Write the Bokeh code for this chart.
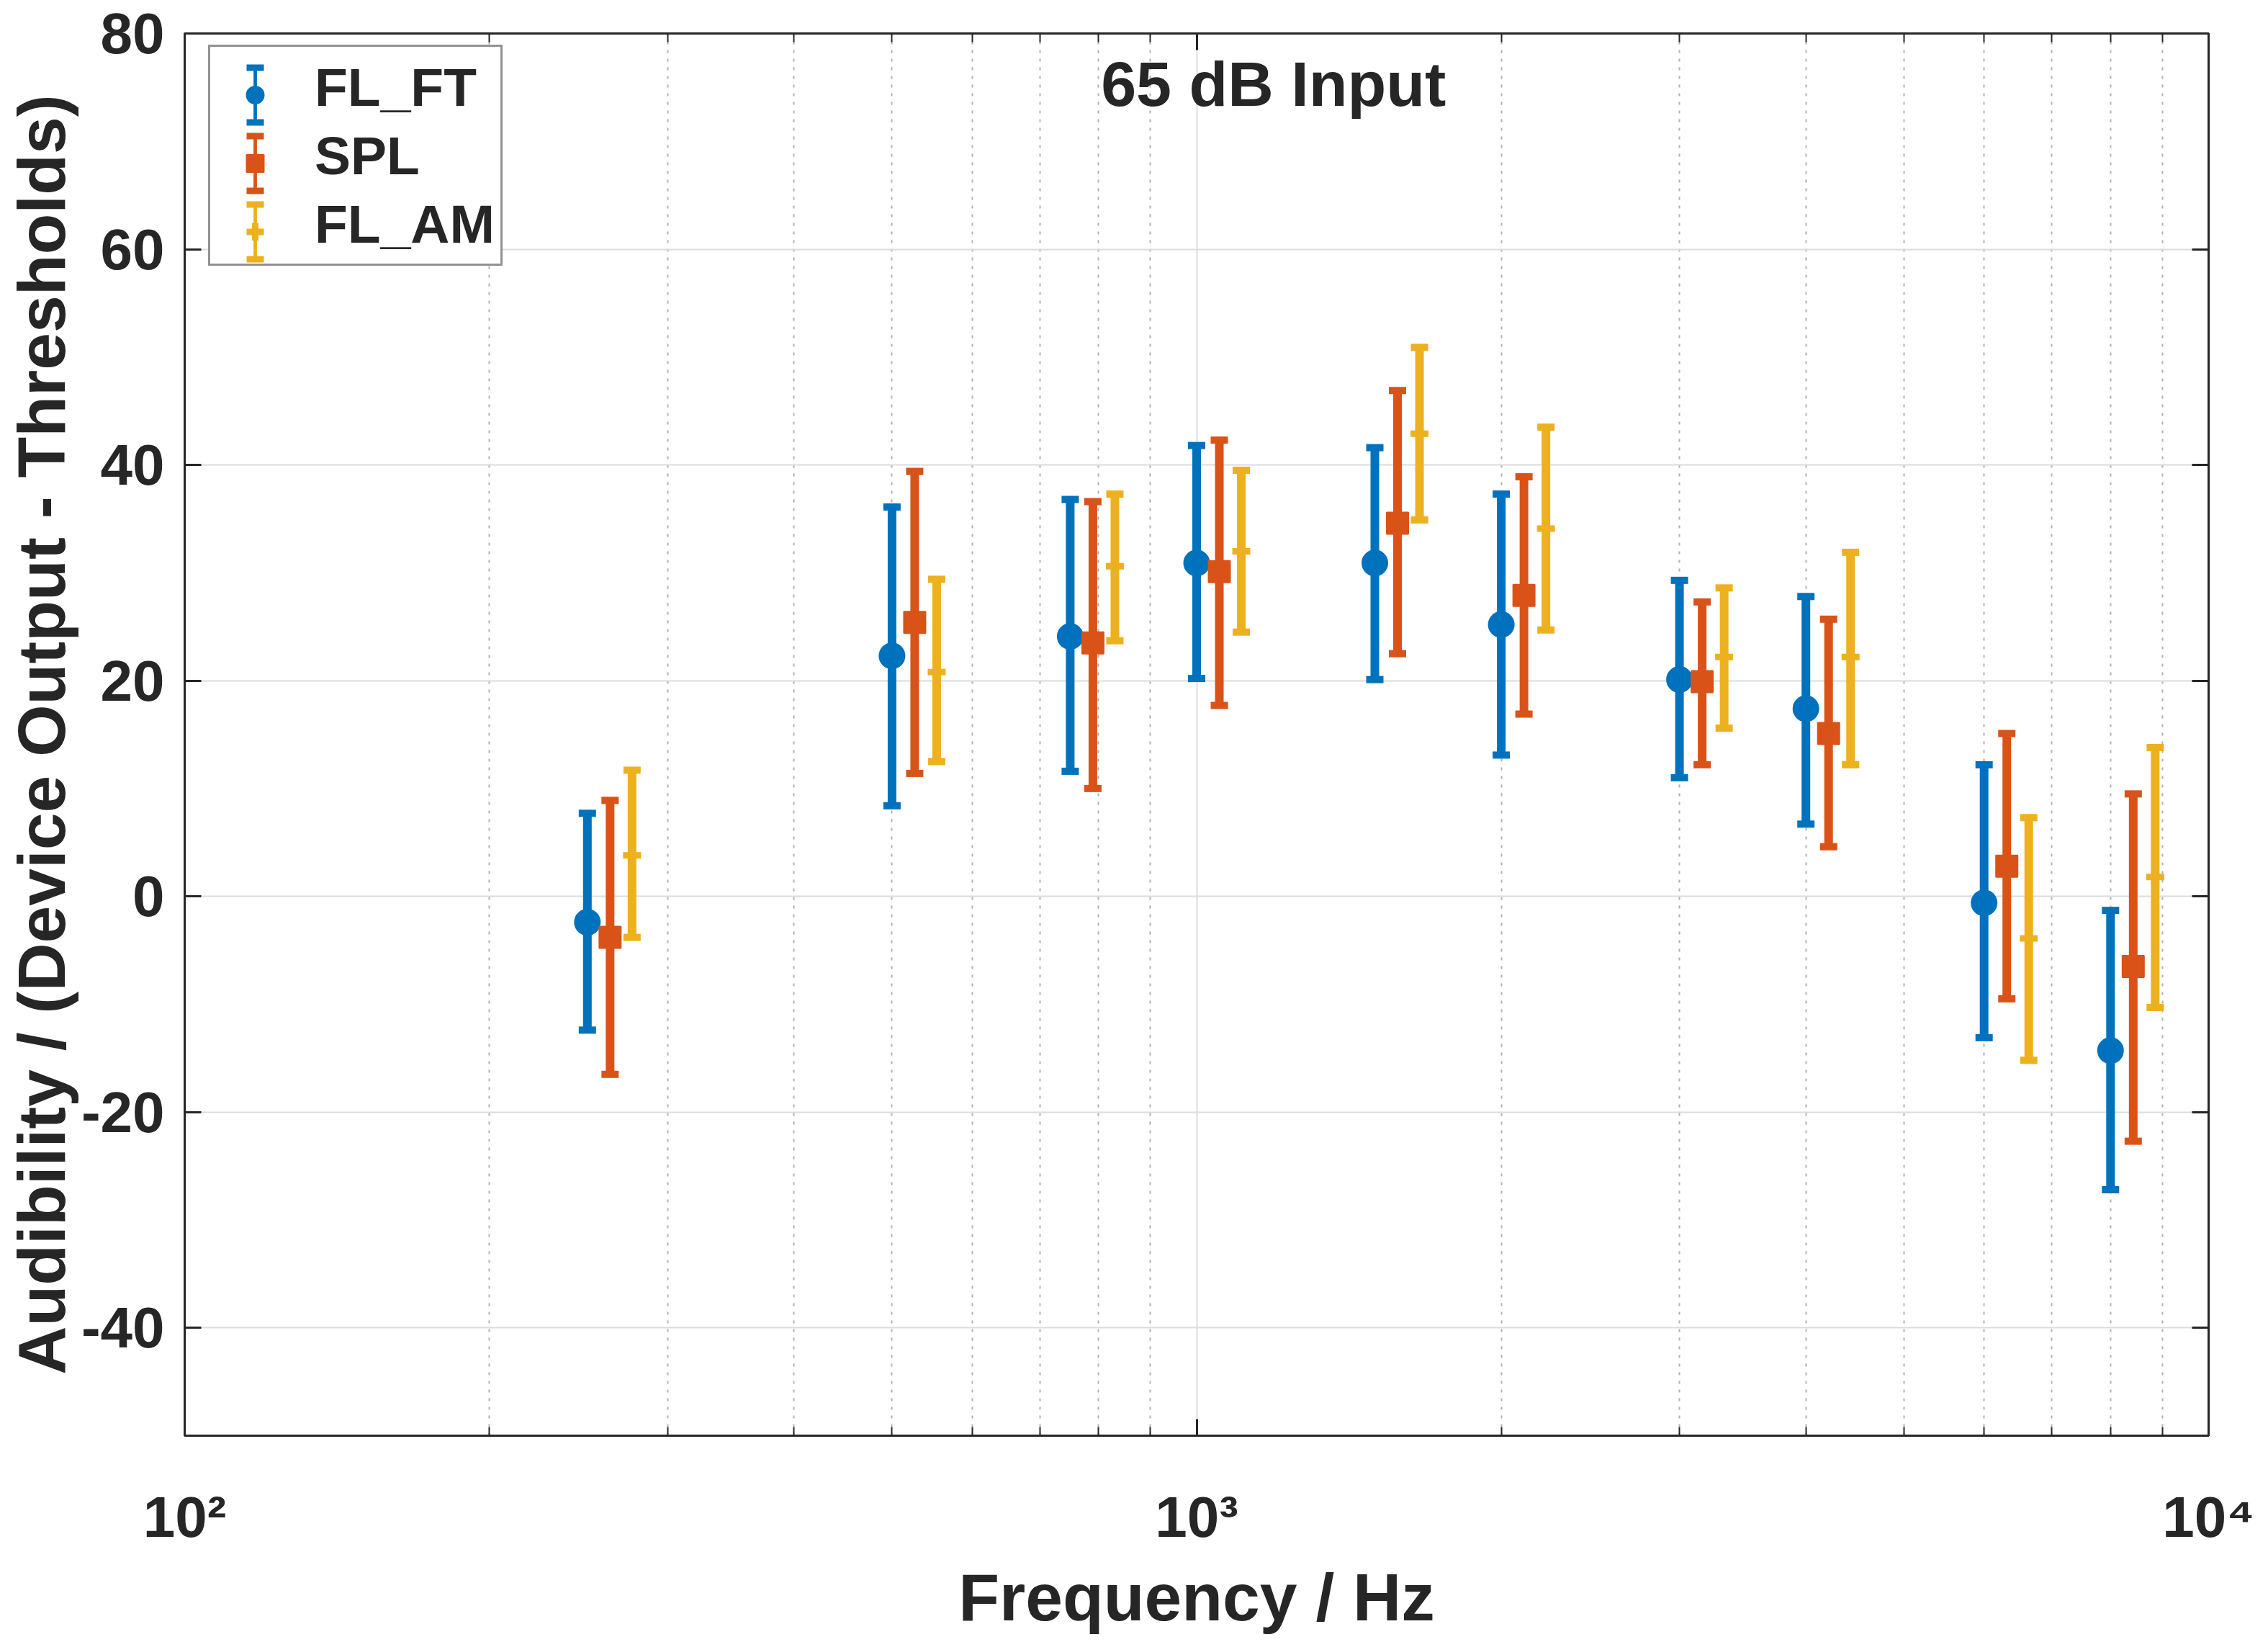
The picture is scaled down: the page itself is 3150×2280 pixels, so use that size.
from bokeh.plotting import figure
from bokeh.models import (Range1d, FixedTicker, LogAxis, LinearAxis, Legend,
                          LegendItem, ColumnDataSource, Label)
from bokeh.embed import file_html
from bokeh.resources import INLINE

# ---------------- data ----------------
FREQ = [250, 500, 750, 1000, 1500, 2000, 3000, 4000, 6000, 8000]
SERIES = ["FL_FT", "SPL", "FL_AM"]

FL_FT_MEAN = [-2.4, 22.3, 24.1, 30.9, 30.9, 25.2, 20.1, 17.4, -0.6, -14.3]
FL_FT_LO = [-12.4, 8.4, 11.6, 20.2, 20.1, 13.1, 11.0, 6.7, -13.1, -27.2]
FL_FT_HI = [7.7, 36.1, 36.8, 41.8, 41.6, 37.3, 29.3, 27.8, 12.2, -1.3]

SPL_MEAN = [-3.8, 25.4, 23.5, 30.1, 34.6, 27.9, 19.9, 15.1, 2.8, -6.5]
SPL_LO = [-16.5, 11.4, 10.0, 17.7, 22.5, 16.9, 12.2, 4.6, -9.5, -22.7]
SPL_HI = [8.9, 39.4, 36.6, 42.3, 46.9, 38.9, 27.3, 25.7, 15.1, 9.5]

FL_AM_MEAN = [3.8, 20.8, 30.6, 32.0, 42.9, 34.1, 22.2, 22.2, -3.9, 1.8]
FL_AM_LO = [-3.8, 12.5, 23.7, 24.5, 34.9, 24.7, 15.6, 12.2, -15.2, -10.3]
FL_AM_HI = [11.7, 29.4, 37.3, 39.5, 50.9, 43.5, 28.6, 31.9, 7.3, 13.8]

# horizontal dodge factors (multiplicative, log axis)
DODGE = [1.0, 1.053, 1.107]

X_TICKS = [100, 1000, 10000]
X_TICK_LABELS = ["10\u00b2", "10\u00b3", "10\u2074"]
X_MINOR = [200, 300, 400, 500, 600, 700, 800, 900,
           2000, 3000, 4000, 5000, 6000, 7000, 8000, 9000]
Y_TICKS = [-40, -20, 0, 20, 40, 60, 80]
Y_TICK_LABELS = ["-40", "-20", "0", "20", "40", "60", "80"]

TITLE = "65 dB Input"
X_LABEL = "Frequency / Hz"
Y_LABEL = "Audibility / (Device Output - Thresholds)"

COLORS = ["#0072BD", "#D95319", "#EDB120"]
FONT = "Liberation Sans"
TXT = "#262626"

# ---------------- figure ----------------
W, H = 3134, 2272
B_LEFT, B_RIGHT, B_TOP, B_BOTTOM = 256, 67, 46, 276
p = figure(width=W, height=H, x_axis_type="log",
           x_range=Range1d(100, 10000), y_range=Range1d(-50, 80),
           output_backend="svg", toolbar_location=None,
           min_border_left=B_LEFT, min_border_right=B_RIGHT,
           min_border_top=B_TOP, min_border_bottom=B_BOTTOM,
           background_fill_color="white", border_fill_color="white")
p.outline_line_color = TXT
p.outline_line_width = 3

xt = FixedTicker(ticks=X_TICKS, minor_ticks=X_MINOR)
yt = FixedTicker(ticks=Y_TICKS, minor_ticks=[])

xa = p.xaxis[0]
xa.ticker = xt
xa.major_label_overrides = dict(zip(X_TICKS, X_TICK_LABELS))
ya = p.yaxis[0]
ya.ticker = yt
ya.major_label_overrides = dict(zip(Y_TICKS, Y_TICK_LABELS))

for ax in (xa, ya):
    ax.axis_line_color = TXT
    ax.axis_line_width = 3
    ax.major_tick_line_color = TXT
    ax.major_tick_line_width = 3
    ax.minor_tick_line_color = TXT
    ax.minor_tick_line_width = 2
    ax.major_tick_in = 23
    ax.major_tick_out = 0
    ax.minor_tick_out = 0
    ax.major_label_text_font = FONT
    ax.major_label_text_font_style = "bold"
    ax.major_label_text_font_size = "80px"
    ax.major_label_text_color = TXT
    ax.axis_label_text_font = FONT
    ax.axis_label_text_font_style = "bold"
    ax.axis_label_text_font_size = "93px"
    ax.axis_label_text_color = TXT

xa.minor_tick_in = 12
ya.minor_tick_in = 0
xa.axis_label = X_LABEL
ya.axis_label = Y_LABEL
xa.major_label_standoff = 68
xa.axis_label_standoff = 12
ya.major_label_standoff = 28
ya.axis_label_standoff = 0

# mirrored box axes (top, right) with inward ticks, labels not drawn
top = LogAxis(ticker=xt, major_label_text_font_size="1px",
              major_label_text_color=None, major_label_standoff=0,
              axis_line_color=TXT, axis_line_width=3,
              major_tick_in=23, major_tick_out=0, major_tick_line_width=3,
              major_tick_line_color=TXT,
              minor_tick_in=12, minor_tick_out=0, minor_tick_line_width=2,
              minor_tick_line_color=TXT)
right = LinearAxis(ticker=yt, major_label_text_font_size="1px",
                   major_label_text_color=None, major_label_standoff=0,
                   axis_line_color=TXT, axis_line_width=3,
                   major_tick_in=23, major_tick_out=0, major_tick_line_width=3,
                   major_tick_line_color=TXT,
                   minor_tick_in=0, minor_tick_out=0)
p.add_layout(top, "above")
p.add_layout(right, "right")

# grids
p.xgrid.ticker = xt
p.ygrid.ticker = yt
p.xgrid.grid_line_color = "#dcdcdc"
p.xgrid.grid_line_width = 2
p.xgrid.minor_grid_line_color = "#b0b0b0"
p.xgrid.minor_grid_line_width = 2
p.xgrid.minor_grid_line_dash = "4 8"
p.ygrid.grid_line_color = "#dcdcdc"
p.ygrid.grid_line_width = 2

# ---------------- data marks ----------------
means = [FL_FT_MEAN, SPL_MEAN, FL_AM_MEAN]
los = [FL_FT_LO, SPL_LO, FL_AM_LO]
his = [FL_FT_HI, SPL_HI, FL_AM_HI]
markers = [("circle", 35, 2), ("square", 30, 2), ("cross", 25, 9)]

dummy_r, bar_r, cap_r, mark_r = [], [], [], []
for i, name in enumerate(SERIES):
    c = COLORS[i]
    src = ColumnDataSource(dict(
        x=[f * DODGE[i] for f in FREQ], m=means[i], lo=los[i], hi=his[i]))
    p.segment(x0="x", y0="lo", x1="x", y1="hi", source=src,
              line_color=c, line_width=12)
    p.scatter(x="x", y="hi", source=src, marker="dash", size=24,
              line_color=c, line_width=10)
    p.scatter(x="x", y="lo", source=src, marker="dash", size=24,
              line_color=c, line_width=10)
    mk, sz, lw = markers[i]
    mr = p.scatter(x="x", y="m", source=src, marker=mk, size=sz,
                   fill_color=c, line_color=c, line_width=lw)
    mark_r.append(mr)
    # invisible helpers used only for legend symbols
    br = p.vbar(x="x", top="hi", bottom="lo", width=1, source=src,
                fill_color=c, line_alpha=0, visible=False)
    bar_r.append(br)
    cr = p.vbar(x="x", top="hi", bottom="lo", width=1, source=src,
                fill_alpha=0, line_color=c, line_width=9,
                line_dash="24 76", visible=False)
    cap_r.append(cr)
    dr = p.scatter(x="x", y="m", source=src, marker="circle", size=1,
                   fill_alpha=0, line_alpha=0, visible=False)
    dummy_r.append(dr)

# ---------------- title inside axes ----------------
p.add_layout(Label(x=1191, y=75.3, text=TITLE, text_align="center",
                   text_baseline="middle", text_font=FONT,
                   text_font_style="bold", text_font_size="88px",
                   text_color=TXT))

# ---------------- legend (layered) ----------------
PAD, GH = 8, 95
FRAME_H = H - B_TOP - B_BOTTOM
LEG_LEFT, LEG_TOP = 33, 25
LEG_H = 2 * PAD + 3 * GH
VY = FRAME_H - LEG_TOP - LEG_H
CENTER = 73


def make_legend(renderers, gw, show_box):
    labels = SERIES if show_box else [" "] * 3
    items = [LegendItem(label=labels[k], renderers=[renderers[k]])
             for k in range(3)]
    vx = LEG_LEFT if show_box else LEG_LEFT + CENTER - PAD - gw / 2.0
    lg = Legend(items=items, location=(vx, VY), padding=PAD, spacing=0,
                margin=0, glyph_width=gw, glyph_height=GH,
                label_standoff=5, label_text_font=FONT,
                label_text_font_style="bold",
                label_text_font_size="75px" if show_box else "1px",
                label_text_color=TXT if show_box else None)
    if show_box:
        lg.border_line_color = TXT
        lg.border_line_width = 3
        lg.background_fill_color = "white"
        lg.background_fill_alpha = 1.0
    else:
        lg.border_line_color = None
        lg.background_fill_color = None
    return lg


p.add_layout(make_legend(dummy_r, 132, True), "center")
p.add_layout(make_legend(bar_r, 6, False), "center")
p.add_layout(make_legend(cap_r, 30, False), "center")
p.add_layout(make_legend(mark_r, 60, False), "center")

open("out.html", "w").write(file_html(p, INLINE))
